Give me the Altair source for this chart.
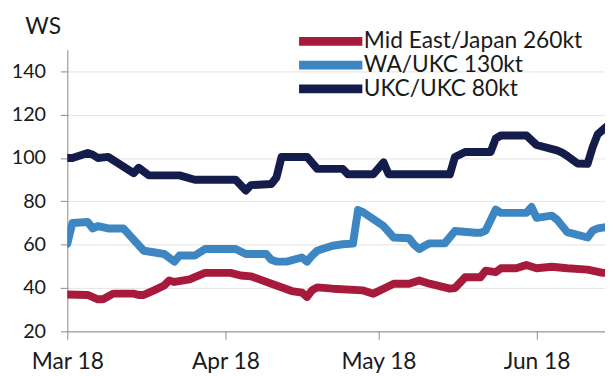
import altair as alt
import pandas as pd

series_names = ["Mid East/Japan 260kt", "WA/UKC 130kt", "UKC/UKC 80kt"]
series_colors = ["#a81a3c", "#3d86c2", "#131c4a"]

me_dates = ["2018-03-01", "2018-03-05", "2018-03-07", "2018-03-08", "2018-03-10", "2018-03-14",
            "2018-03-15", "2018-03-16", "2018-03-18", "2018-03-20", "2018-03-21", "2018-03-22",
            "2018-03-25", "2018-03-26", "2018-03-28", "2018-04-02", "2018-04-04", "2018-04-06",
            "2018-04-11", "2018-04-14", "2018-04-16", "2018-04-17", "2018-04-18", "2018-04-19",
            "2018-04-22", "2018-04-28", "2018-04-30", "2018-05-02", "2018-05-04", "2018-05-07",
            "2018-05-09", "2018-05-11", "2018-05-15", "2018-05-16", "2018-05-18", "2018-05-21",
            "2018-05-22", "2018-05-24", "2018-05-25", "2018-05-28", "2018-05-30", "2018-06-01",
            "2018-06-04", "2018-06-07", "2018-06-11", "2018-06-14", "2018-06-15"]
me_values = [37, 36.8, 34.8, 34.8, 37.4, 37.4,
             36.8, 36.8, 38.9, 41.2, 43.5, 42.8,
             44, 45, 47, 47, 45.8, 45.4,
             41.2, 38.6, 37.9, 35.9, 39, 40.3,
             39.7, 38.9, 37.4, 39.7, 42, 42,
             43.5, 42, 39.7, 40, 45, 45,
             48, 47.3, 49.1, 49.1, 50.6, 49.1,
             49.8, 49.1, 48.5, 47, 47]

wa_dates = ["2018-03-01", "2018-03-02", "2018-03-05", "2018-03-06", "2018-03-07", "2018-03-09",
            "2018-03-12", "2018-03-14", "2018-03-16", "2018-03-20", "2018-03-22", "2018-03-23",
            "2018-03-26", "2018-03-28", "2018-04-03", "2018-04-05", "2018-04-09", "2018-04-10",
            "2018-04-11", "2018-04-13", "2018-04-16", "2018-04-17", "2018-04-18", "2018-04-19",
            "2018-04-20", "2018-04-22", "2018-04-24", "2018-04-26", "2018-04-27", "2018-04-28",
            "2018-05-02", "2018-05-04", "2018-05-07", "2018-05-08", "2018-05-09", "2018-05-10",
            "2018-05-11", "2018-05-14", "2018-05-16", "2018-05-20", "2018-05-21", "2018-05-22",
            "2018-05-24", "2018-05-25", "2018-05-30", "2018-05-31", "2018-06-01", "2018-06-04",
            "2018-06-05", "2018-06-07", "2018-06-11", "2018-06-12", "2018-06-13", "2018-06-15"]
wa_values = [60.5, 70, 70.5, 67.5, 68.6, 67.5,
             67.5, 62.3, 57.2, 55.7, 52.2, 55,
             55, 58, 58, 55.7, 55.7, 53,
             52.2, 52.2, 54.1, 52.2, 55, 57.2,
             58, 59.5, 60.2, 60.5, 76, 75,
             68.6, 63.3, 63, 60, 58, 59.4,
             60.6, 60.6, 66.3, 65.5, 65.5, 66.5,
             76.2, 74.7, 74.7, 77.4, 72.4, 73.4,
             71.6, 65.8, 63.3, 66.5, 67.5, 68.3]

ukc_dates = ["2018-03-01", "2018-03-02", "2018-03-05", "2018-03-06", "2018-03-07", "2018-03-09",
             "2018-03-14", "2018-03-15", "2018-03-17", "2018-03-23", "2018-03-26", "2018-04-03",
             "2018-04-05", "2018-04-06", "2018-04-10", "2018-04-11", "2018-04-12", "2018-04-17",
             "2018-04-19", "2018-04-24", "2018-04-25", "2018-04-30", "2018-05-02", "2018-05-03",
             "2018-05-15", "2018-05-16", "2018-05-18", "2018-05-23", "2018-05-24", "2018-05-25",
             "2018-05-30", "2018-06-01", "2018-06-05", "2018-06-06", "2018-06-07", "2018-06-09",
             "2018-06-11", "2018-06-12", "2018-06-13", "2018-06-14", "2018-06-15"]
ukc_values = [100, 100, 102.3, 101.5, 100, 100.5,
              93, 95.5, 92, 92, 90, 90,
              85, 87.5, 88, 91, 100.5, 100.5,
              95, 95, 92.5, 92.5, 98, 92.5,
              92.5, 100.5, 102.8, 102.8, 109, 110.4,
              110.4, 106, 103.5, 102.5, 101, 97.5,
              97.3, 105, 111, 113, 115]

y_ticks = [20, 40, 60, 80, 100, 120, 140]
x_ticks = ["Mar 18", "Apr 18", "May 18", "Jun 18"]

frames = []
for name, d, v in [(series_names[0], me_dates, me_values),
                   (series_names[1], wa_dates, wa_values),
                   (series_names[2], ukc_dates, ukc_values)]:
    frames.append(pd.DataFrame({"date": d, "value": v, "series": name}))
df = pd.concat(frames, ignore_index=True)

x_tick_values = [alt.DateTime(year=2018, month=m, date=1, utc=True) for m in [3, 4, 5, 6]]
label_expr = "[" + ",".join("'" + t + "'" for t in x_ticks) + "][utcmonth(datum.value) - 2]"

chart = alt.Chart(df).mark_line(
    strokeWidth=8, strokeCap="round", strokeJoin="round", clip=True
).encode(
    x=alt.X("date:T",
            scale=alt.Scale(type="utc",
                            domain=[alt.DateTime(year=2018, month=3, date=1, utc=True),
                                    alt.DateTime(year=2018, month=6, date=14, hours=10, utc=True)]),
            axis=alt.Axis(title=None, values=x_tick_values, labelExpr=label_expr,
                          grid=False, labelFlush=False, tickSize=8, labelPadding=12,
                          labelFontSize=23,
                          domainColor="#8a8a8a", tickColor="#8a8a8a")),
    y=alt.Y("value:Q",
            scale=alt.Scale(domain=[20, 150], nice=False, zero=False),
            axis=alt.Axis(title="WS", values=y_ticks, titleAngle=0, titleAlign="left",
                          titleBaseline="middle", titleX=-43, titleY=-23,
                          titleFontWeight="normal", titleFontSize=23, titleColor="#1a1a1a",
                          grid=True, gridColor="#e3e3e3", tickSize=7, labelPadding=15,
                          labelFontSize=20,
                          domainColor="#8a8a8a", tickColor="#8a8a8a")),
    color=alt.Color("series:N",
                    scale=alt.Scale(domain=series_names, range=series_colors),
                    sort=series_names,
                    legend=alt.Legend(title=None, orient="none", legendX=230, legendY=-20,
                                      symbolType="stroke", symbolSize=4096, symbolStrokeWidth=9,
                                      clipHeight=23.3, rowPadding=0,
                                      labelOffset=alt.ExprRef(expr="-3"),
                                      labelLimit=400,
                                      labelFontSize=23, labelColor="#1a1a1a", padding=0)),
).properties(
    width=544, height=285,
    autosize=alt.AutoSizeParams(type="none"),
    padding={"left": 60, "top": 40, "right": 0, "bottom": 43},
).configure(
    font="Lato",
).configure_axis(
    labelColor="#1a1a1a", labelFont="Lato",
).configure_view(
    stroke=None,
)

chart.save("out.html", embed_options={"renderer": "svg", "actions": False})
